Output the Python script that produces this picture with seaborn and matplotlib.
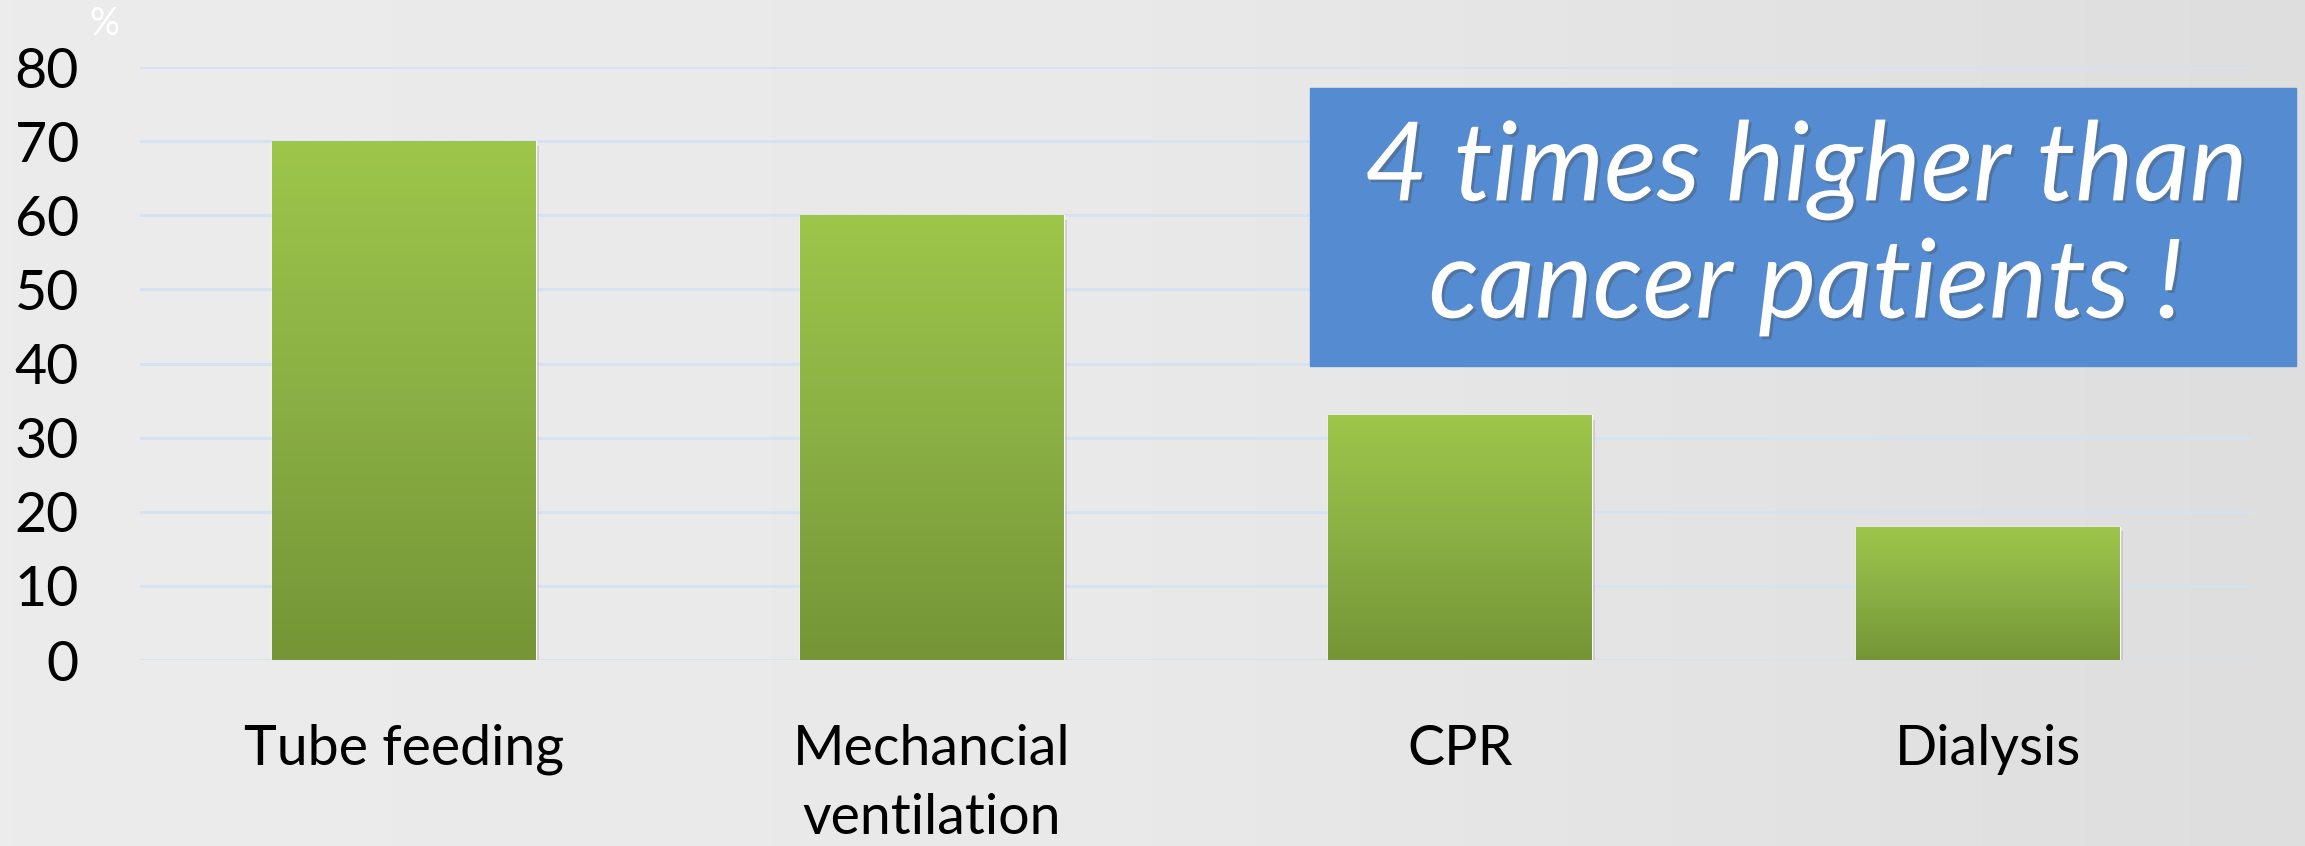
import matplotlib
matplotlib.use('Agg')
import matplotlib.pyplot as plt
import matplotlib.patheffects as pe
from matplotlib.patches import Rectangle
from matplotlib.colors import LinearSegmentedColormap
import numpy as np
import pandas as pd
import seaborn as sns

categories = ['Tube feeding', 'Mechancial\nventilation', 'CPR', 'Dialysis']
values = [70, 60, 33, 18]
y_ticks = [0, 10, 20, 30, 40, 50, 60, 70, 80]
callout = '4 times higher than\ncancer patients !'

df = pd.DataFrame({'procedure': categories, 'pct': values})

sns.set_style('white')
plt.rcParams['font.family'] = ['Lato', 'DejaVu Sans']

W, H = 2305, 846
fig = plt.figure(figsize=(W / 100, H / 100), dpi=100)
fig.patch.set_facecolor('#EAEAEA')

# faint background shading, a little darker to the right
bg = fig.add_axes([0, 0, 1, 1], zorder=-10)
bg.imshow(np.linspace(0, 1, 200).reshape(1, -1),
          cmap=LinearSegmentedColormap.from_list('bg', ['#ECECEC', '#E9E9E9', '#DEDEDE']),
          aspect='auto', extent=(0, 1, 0, 1))
bg.set_axis_off()

ax = fig.add_axes([140 / W, 1 - 660 / H, (2252 - 140) / W, (660 - 67) / H])
ax.set_facecolor('none')

sns.barplot(data=df, x='procedure', y='pct', color='#8DB244', width=0.5,
            saturation=1, ax=ax, zorder=3)

# vertical green gradient on each bar
green = LinearSegmentedColormap.from_list('g', ['#759536', '#8AAF44', '#9DC64A'])
grad = np.linspace(0, 1, 256).reshape(-1, 1)
for p in list(ax.patches):
    x0, y0 = p.get_x(), p.get_y()
    w, h = p.get_width(), p.get_height()
    # soft shadow
    ax.add_patch(Rectangle((x0 + 0.006, y0 - 0.6), w, h, color='#9A9A9A',
                           alpha=0.35, zorder=2, lw=0))
    im = ax.imshow(grad, cmap=green, origin='lower', aspect='auto',
                   extent=(x0, x0 + w, y0, y0 + h), zorder=4)
    im.set_clip_path(p)

ax.set_xlim(-0.5, 3.5)
ax.set_ylim(0, 80)
ax.set_yticks(y_ticks)
ax.grid(axis='y', color='#D4E2F2', linewidth=2, zorder=0)
ax.grid(axis='x', visible=False)
for s in ax.spines.values():
    s.set_visible(False)
ax.set_xlabel('')
ax.set_ylabel('')
ax.tick_params(axis='both', length=0, labelsize=40, colors='black')
ax.tick_params(axis='y', pad=44)
ax.tick_params(axis='x', pad=46)
for lab in ax.get_xticklabels():
    lab.set_linespacing(1.45)

fig.text(104 / W, 1 - 24 / H, '%', color='white', fontsize=27,
         ha='center', va='center')

# blue callout box
fig.patches.append(Rectangle((1310 / W, 1 - 366 / H), (2296 - 1310) / W,
                             (366 - 88) / H, transform=fig.transFigure,
                             color='#548BD1', zorder=5))
fig.text(1806 / W, 1 - 228 / H, callout, color='white', fontsize=79,
         style='italic', ha='center', va='center', linespacing=1.2,
         zorder=6,
         path_effects=[pe.withSimplePatchShadow(offset=(2, -2), alpha=0.35)])

fig.savefig('out.png', dpi=100, facecolor=fig.get_facecolor())
